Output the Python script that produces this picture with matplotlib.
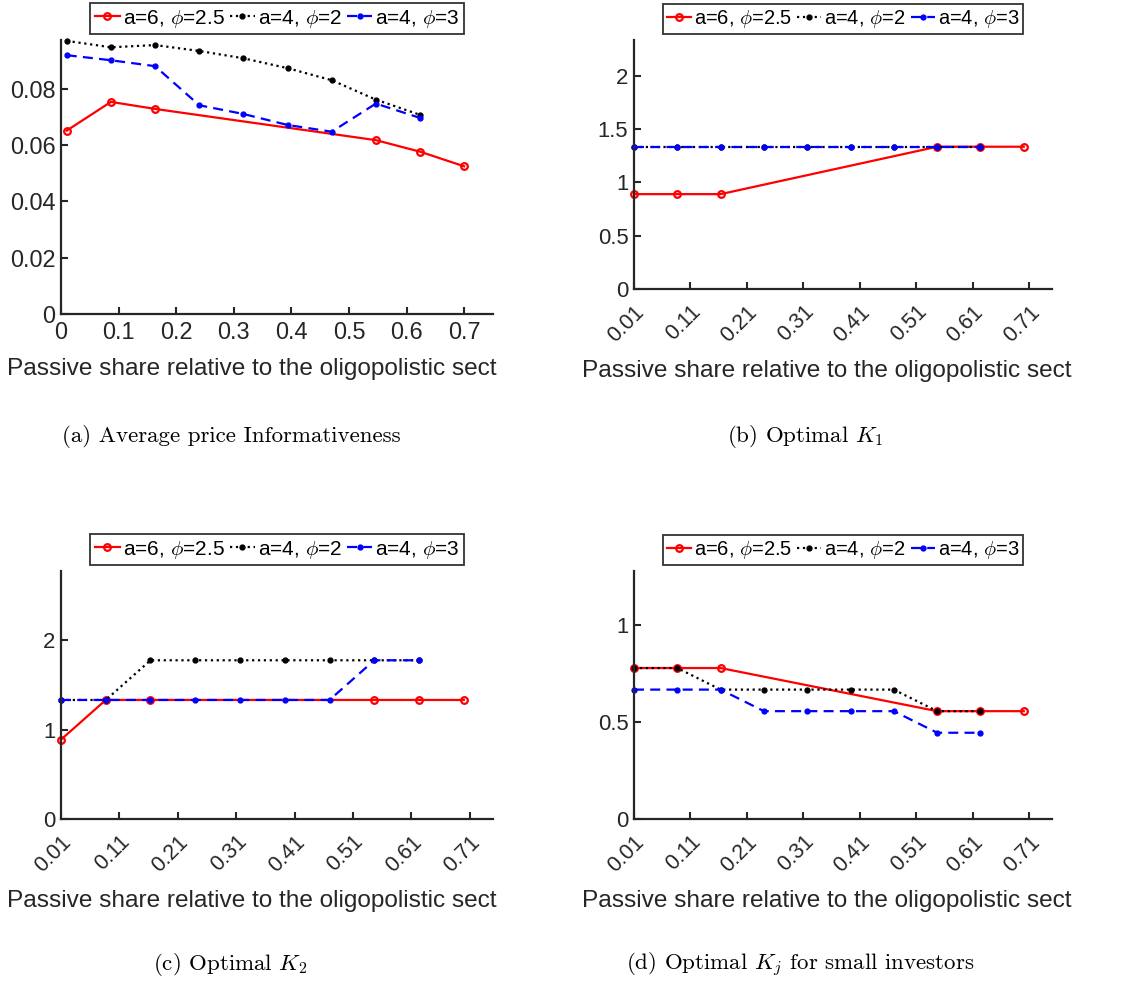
import matplotlib
matplotlib.use("Agg")
import matplotlib.pyplot as plt
from matplotlib.ticker import FixedLocator, FixedFormatter

plt.rcParams['mathtext.fontset'] = 'cm'
plt.rcParams['font.family'] = ['Liberation Sans', 'DejaVu Sans']

# ---------------- data ----------------
x_all = [0.01, 0.0867, 0.1633, 0.24, 0.3167, 0.3933, 0.47, 0.5467, 0.6233]
x_red = [0.01, 0.0867, 0.1633, 0.5467, 0.6233, 0.70]

series_labels = ["a=6, $\\phi$=2.5", "a=4, $\\phi$=2", "a=4, $\\phi$=3"]

info_red = [0.0652, 0.0754, 0.0729, 0.0618, 0.0577, 0.0525]
info_black = [0.0971, 0.0948, 0.0956, 0.0935, 0.0909, 0.0874, 0.0831, 0.0762, 0.0708]
info_blue = [0.0920, 0.0902, 0.0881, 0.0742, 0.0711, 0.0672, 0.0648, 0.0748, 0.0697]

k1_red = [0.8889, 0.8889, 0.8889, 1.3333, 1.3333, 1.3333]
k1_black = [1.3333, 1.3333, 1.3333, 1.3333, 1.3333, 1.3333, 1.3333, 1.3333, 1.3333]
k1_blue = [1.3333, 1.3333, 1.3333, 1.3333, 1.3333, 1.3333, 1.3333, 1.3333, 1.3333]

k2_red = [0.8889, 1.3333, 1.3333, 1.3333, 1.3333, 1.3333]
k2_black = [1.3333, 1.3333, 1.7778, 1.7778, 1.7778, 1.7778, 1.7778, 1.7778, 1.7778]
k2_blue = [1.3333, 1.3333, 1.3333, 1.3333, 1.3333, 1.3333, 1.3333, 1.7778, 1.7778]

kj_red = [0.7778, 0.7778, 0.7778, 0.5556, 0.5556, 0.5556]
kj_black = [0.7778, 0.7778, 0.6667, 0.6667, 0.6667, 0.6667, 0.6667, 0.5556, 0.5556]
kj_blue = [0.6667, 0.6667, 0.6667, 0.5556, 0.5556, 0.5556, 0.5556, 0.4444, 0.4444]

xticks_a = [0, 0.1, 0.2, 0.3, 0.4, 0.5, 0.6, 0.7]
xticklabels_a = ["0", "0.1", "0.2", "0.3", "0.4", "0.5", "0.6", "0.7"]
xticks_b = [0.01, 0.11, 0.21, 0.31, 0.41, 0.51, 0.61, 0.71]
xticklabels_b = ["0.01", "0.11", "0.21", "0.31", "0.41", "0.51", "0.61", "0.71"]

yticks_a = [0, 0.02, 0.04, 0.06, 0.08]
yticklabels_a = ["0", "0.02", "0.04", "0.06", "0.08"]
yticks_b = [0, 0.5, 1, 1.5, 2]
yticklabels_b = ["0", "0.5", "1", "1.5", "2"]
yticks_c = [0, 1, 2]
yticklabels_c = ["0", "1", "2"]
yticks_d = [0, 0.5, 1]
yticklabels_d = ["0", "0.5", "1"]

xlabel_text = "Passive share relative to the oligopolistic sect"
captions = ["(a) Average price Informativeness", "(b) Optimal $K_1$",
            "(c) Optimal $K_2$", "(d) Optimal $K_j$ for small investors"]

# ---------------- figure ----------------
W, H = 1122, 982
fig = plt.figure(figsize=(W / 100, H / 100), dpi=100)

AX_COL = '#262626'

def rect(l, r, t, b):
    return [l / W, 1 - b / H, (r - l) / W, (b - t) / H]

def make_panel(r, reds, blacks, blues, xlim, ylim, xt, xtl, yt, ytl, rotated, lab_xy,
               tsize, lsize):
    ax = fig.add_axes(r)
    l1, = ax.plot(x_red, reds, color='red', ls='-', lw=1.6, marker='o', ms=4.8,
                  mfc='none', mew=1.6, clip_on=False, label=series_labels[0])
    l2, = ax.plot(x_all, blacks, color='black', ls=':', lw=1.6, marker='.', ms=7,
                  clip_on=False, label=series_labels[1])
    l3, = ax.plot(x_all, blues, color='blue', ls=(0, (4.5, 2.8)), lw=1.6, marker='.', ms=7,
                  clip_on=False, label=series_labels[2])
    ax.set_xlim(*xlim)
    ax.set_ylim(*ylim)
    for s in ['top', 'right']:
        ax.spines[s].set_visible(False)
    for s in ['left', 'bottom']:
        ax.spines[s].set_color(AX_COL)
        ax.spines[s].set_linewidth(1.6)
    ax.xaxis.set_major_locator(FixedLocator(xt))
    ax.xaxis.set_major_formatter(FixedFormatter(xtl))
    ax.yaxis.set_major_locator(FixedLocator(yt))
    ax.yaxis.set_major_formatter(FixedFormatter(ytl))
    ax.tick_params(direction='in', length=5, width=1.5, color=AX_COL,
                   labelcolor=AX_COL, labelsize=tsize)
    ax.tick_params(axis='y', pad=4)
    if rotated:
        ax.tick_params(axis='x', pad=9, labelsize=15.5)
        for t in ax.get_xticklabels():
            t.set_rotation(45)
            t.set_ha('right')
            t.set_va('top')
            t.set_rotation_mode('anchor')
    else:
        ax.tick_params(axis='x', pad=5)
    leg = ax.legend(handles=[l1, l2, l3], loc='lower center', bbox_to_anchor=(0.5, 1.0),
                    ncol=3, fontsize=lsize, frameon=True, fancybox=False,
                    edgecolor='black', handlelength=1.2, handletextpad=0.15,
                    columnspacing=0.25, borderpad=0.2, borderaxespad=0.3)
    leg.get_frame().set_linewidth(1.3)
    for t in leg.get_texts():
        t.set_color('black')
    ax.set_xlabel(xlabel_text, fontsize=17.6, color=AX_COL, ha='left', va='baseline')
    ax.xaxis.set_label_coords(*lab_xy)
    return ax

# panel positions (pixels)
pa = (61, 493, 40, 314)
pb = (634, 1052, 40, 289)
pc = (61, 493, 571, 819)
pd = (634, 1052, 571, 819)

def lab_coords(p, x_px, base_px):
    l, r, t, b = p
    return ((x_px - l) / (r - l), (b - base_px) / (b - t))

make_panel(rect(*pa), info_red, info_black, info_blue, (0, 0.75), (0, 0.0974),
           xticks_a, xticklabels_a, yticks_a, yticklabels_a, False, lab_coords(pa, 7, 375),
           16.9, 15)
make_panel(rect(*pb), k1_red, k1_black, k1_blue, (0.01, 0.75), (0, 2.3333),
           xticks_b, xticklabels_b, yticks_b, yticklabels_b, True, lab_coords(pb, 582, 376.5),
           15.9, 14.5)
make_panel(rect(*pc), k2_red, k2_black, k2_blue, (0.01, 0.75), (0, 2.7778),
           xticks_b, xticklabels_b, yticks_c, yticklabels_c, True, lab_coords(pc, 7, 906.5),
           15.9, 15)
make_panel(rect(*pd), kj_red, kj_black, kj_blue, (0.01, 0.75), (0, 1.2778),
           xticks_b, xticklabels_b, yticks_d, yticklabels_d, True, lab_coords(pd, 582, 906.5),
           15.9, 14.5)

cap_pos = [(231, 436), (805, 436), (230, 965), (800, 965)]
for (cx, cy), txt in zip(cap_pos, captions):
    fig.text(cx / W, 1 - cy / H, txt, family='cmr10', fontsize=16.5,
             ha='center', va='center', color='black')

fig.savefig("out.png", dpi=100)
